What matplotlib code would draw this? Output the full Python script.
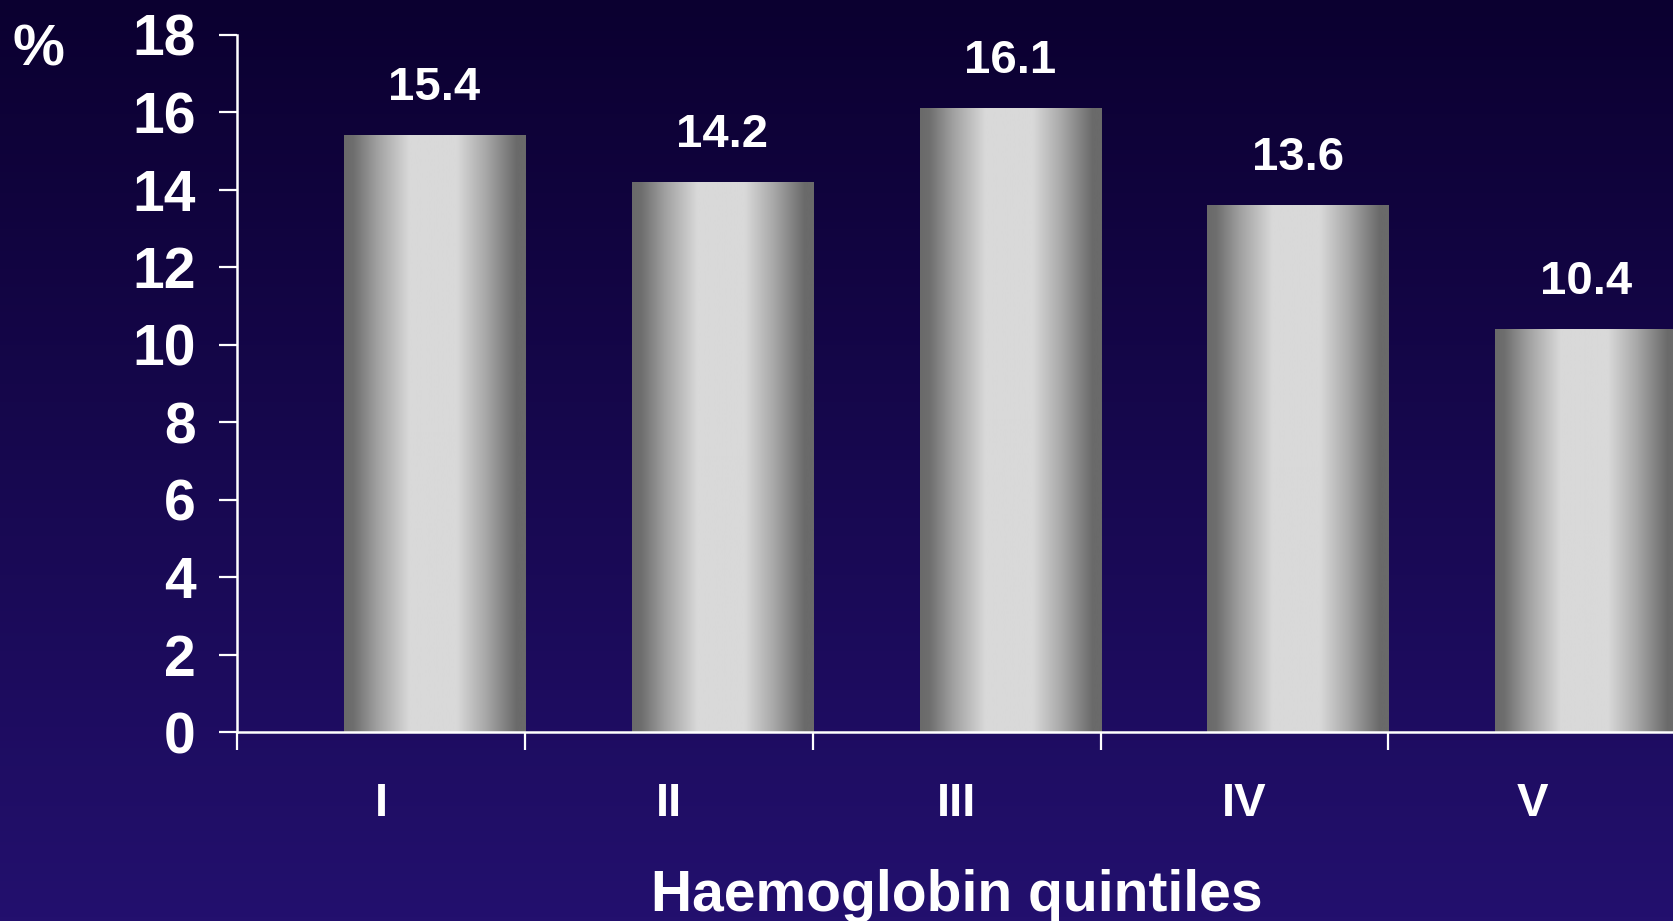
import numpy as np
import matplotlib.pyplot as plt
from matplotlib.colors import LinearSegmentedColormap

# Haemoglobin quintile groups and percentage per group
quintiles = ['I', 'II', 'III', 'IV', 'V']
percent = [15.4, 14.2, 16.1, 13.6, 10.4]
yticks = [0, 2, 4, 6, 8, 10, 12, 14, 16, 18]

FONT = 'Liberation Sans'
BAR_WIDTH = 0.63
BAR_SHIFT = 0.186  # bars sit right of the category centre

bg_cmap = LinearSegmentedColormap.from_list('bg', ['#0b0030', '#23106e'])
bar_cmap = LinearSegmentedColormap.from_list(
    'metal',
    [(0.0, '#6a6a6a'), (0.05, '#6e6e6e'), (0.18, '#a0a0a0'), (0.36, '#d9d9d9'),
     (0.62, '#d9d9d9'), (0.78, '#a8a8a8'), (0.95, '#6a6a6a'), (1.0, '#6a6a6a')])

fig = plt.figure(figsize=(16.73, 9.21), dpi=100)

# vertical gradient behind everything
bg = fig.add_axes([0, 0, 1, 1], zorder=0)
bg.imshow(np.linspace(0, 1, 256).reshape(-1, 1), cmap=bg_cmap,
          aspect='auto', extent=(0, 1, 0, 1), origin='upper')
bg.set_axis_off()

ax = fig.add_axes([0.1417, 0.2052, 0.8603, 0.7568], zorder=1)
ax.patch.set_alpha(0)

x = np.arange(len(quintiles))
bars = ax.bar(x + BAR_SHIFT, percent, width=BAR_WIDTH, color='none', linewidth=0)

grad = np.linspace(0, 1, 256).reshape(1, -1)
for b, val in zip(bars, percent):
    x0 = b.get_x()
    ax.imshow(grad, cmap=bar_cmap, aspect='auto',
              extent=(x0, x0 + b.get_width(), 0, val), zorder=2)
    ax.text(x0 + b.get_width() / 2, val + 1.22, f'{val:.1f}', ha='center', va='center',
            color='white', fontsize=34, fontweight='bold', family=FONT)

ax.set_xlim(-0.5, 4.5)
ax.set_ylim(0, 18)

ax.set_yticks(yticks)
ax.set_yticklabels([str(t) for t in yticks])
ax.set_xticks(np.arange(-0.5, 4.6, 1.0))
ax.set_xticklabels([])
ax.set_xticks(x, minor=True)
ax.set_xticklabels(quintiles, minor=True)

for s in ['top', 'right']:
    ax.spines[s].set_visible(False)
for s in ['left', 'bottom']:
    ax.spines[s].set_color('white')
    ax.spines[s].set_linewidth(1.8)
    ax.spines[s].set_zorder(3)

ax.tick_params(axis='y', which='major', direction='out', length=13, width=1.6,
               color='white', labelcolor='white', pad=17, labelsize=41)
ax.tick_params(axis='x', which='major', direction='out', length=13, width=1.6,
               color='white')
ax.tick_params(axis='x', which='minor', length=0, labelcolor='white', pad=36,
               labelsize=34)
for lab in ax.get_yticklabels() + ax.get_xticklabels(minor=True):
    lab.set_fontweight('bold')
    lab.set_family(FONT)

fig.text(957 / 1673, 1 - 896 / 921, 'Haemoglobin quintiles', ha='center', va='center',
         color='white', fontsize=41, fontweight='bold', family=FONT)
fig.text(38 / 1673, 1 - 50 / 921, '%', ha='center', va='center',
         color='white', fontsize=42, fontweight='bold', family=FONT)

fig.savefig('out.png', dpi=100)
